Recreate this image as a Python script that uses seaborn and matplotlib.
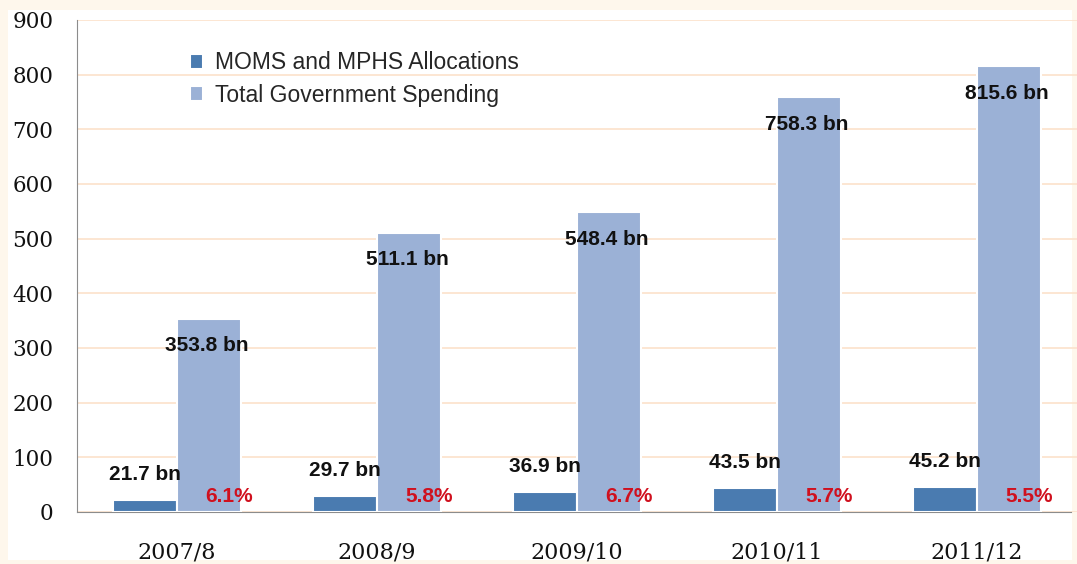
import matplotlib
matplotlib.use("Agg")
import matplotlib.pyplot as plt
import matplotlib.patches as mpatches
import seaborn as sns
import pandas as pd

years = ["2007/8", "2008/9", "2009/10", "2010/11", "2011/12"]
moms_mphs = [21.7, 29.7, 36.9, 43.5, 45.2]
total_spending = [353.8, 511.1, 548.4, 758.3, 815.6]
shares = ["6.1%", "5.8%", "6.7%", "5.7%", "5.5%"]
series_names = ["MOMS and MPHS Allocations", "Total Government Spending"]

df = pd.DataFrame({
    "Year": years * 2,
    "Value": moms_mphs + total_spending,
    "Series": [series_names[0]] * len(years) + [series_names[1]] * len(years),
})

dark_blue = "#4A7BB0"
light_blue = "#9BB1D6"

sns.set_style("white")
fig = plt.figure(figsize=(10.77, 5.64), dpi=100)
fig.patch.set_facecolor("#FEF7EC")
# white panel behind the chart
fig.patches.append(mpatches.Rectangle((8 / 1077, 4 / 564), 1064 / 1077, 550 / 564,
                                      transform=fig.transFigure, facecolor="white",
                                      edgecolor="none", zorder=-10))
ax = fig.add_axes([77 / 1077, 52 / 564, 1000 / 1077, 492 / 564])
ax.patch.set_alpha(0)

sns.barplot(data=df, x="Year", y="Value", hue="Series", palette=[dark_blue, light_blue],
            saturation=1, width=0.64, edgecolor="white", linewidth=1.5, ax=ax, zorder=3)

ax.set_ylim(0, 900)
ax.set_xlim(-0.5, 4.5)
ax.set_yticks(range(0, 901, 100))
ax.yaxis.grid(True, color="#FCE4CF", linewidth=1.3, zorder=0)
ax.set_axisbelow(True)
ax.set_xlabel("")
ax.set_ylabel("")
for s in ["top", "right"]:
    ax.spines[s].set_visible(False)
ax.spines["left"].set_color("#8C8C8C")
ax.spines["bottom"].set_color("#8C8C8C")
ax.spines["bottom"].set_bounds(-0.5, 4.47)
ax.tick_params(axis="both", length=0)
ax.tick_params(axis="y", pad=26)
ax.tick_params(axis="x", pad=21)
for lab in ax.get_yticklabels() + ax.get_xticklabels():
    lab.set_fontfamily("DejaVu Serif")
    lab.set_fontsize(16)
    lab.set_color("#111111")
for lab in ax.get_yticklabels():
    lab.set_fontsize(15.5)
ax.tick_params(axis="y", pad=17)

label_font = dict(fontsize=15, fontweight="bold", family="Liberation Sans", zorder=5)
dark_bars, light_bars = ax.containers[0], ax.containers[1]
for bar, v in zip(dark_bars, moms_mphs):
    cx = bar.get_x() + bar.get_width() / 2
    ax.text(cx, v + 47, f"{v} bn", ha="center", va="center", color="#111111", **label_font)
for bar, v, sh in zip(light_bars, total_spending, shares):
    cx = bar.get_x() + bar.get_width() / 2
    ax.text(cx - 0.01, v - 50, f"{v} bn", ha="center", va="center", color="#111111",
            **label_font)
    ax.text(cx + 0.1, 28, sh, ha="center", va="center", color="#D0101E", **label_font)

handles, labels = ax.get_legend_handles_labels()
ax.legend(handles, labels, loc="upper left", bbox_to_anchor=(0.092, 0.978), frameon=False,
          prop={"family": "Liberation Sans", "size": 16.5}, handlelength=0.6,
          handleheight=0.6, handletextpad=0.5, labelspacing=0.4)

fig.savefig("out.png", dpi=100, facecolor=fig.get_facecolor())
